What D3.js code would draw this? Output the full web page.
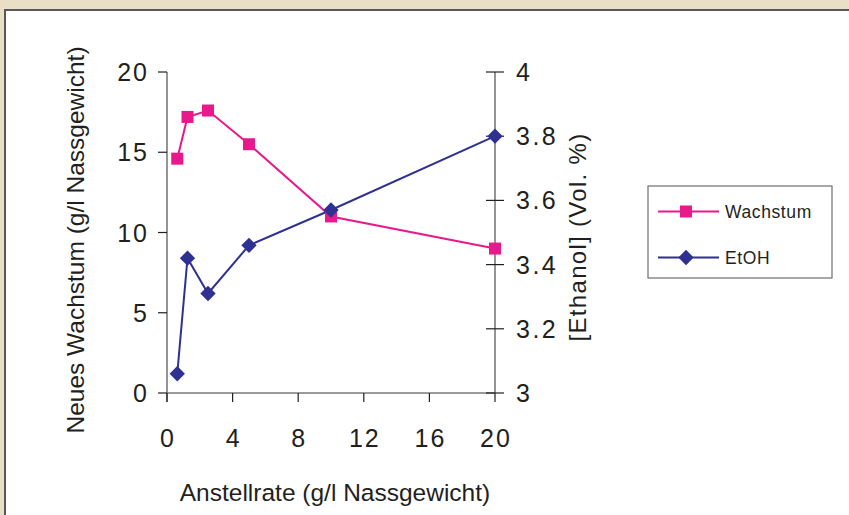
<!DOCTYPE html>
<html>
<head>
<meta charset="utf-8">
<script src="https://cdn.jsdelivr.net/npm/d3@7/dist/d3.min.js"></script>
<style>
  html, body { margin: 0; padding: 0; background: #e9dfc6; }
  svg { display: block; }
  text { font-family: "Liberation Sans", Arial, Helvetica, sans-serif; fill: #231f20; }
</style>
</head>
<body>
<svg id="chart" width="849" height="515"></svg>
<script>
// Anstellrate (g/l Nassgewicht)
const pitchRates = [0.625, 1.25, 2.5, 5, 10, 20];
// Neues Wachstum (g/l Nassgewicht)
const growth = [14.6, 17.2, 17.6, 15.5, 11.0, 9.0];
// [Ethanol] (Vol. %)
const ethanol = [3.06, 3.42, 3.31, 3.46, 3.57, 3.80];

const xTicks = [0, 4, 8, 12, 16, 20];
const yLeftTicks = [0, 5, 10, 15, 20];
const yRightTicks = [3, 3.2, 3.4, 3.6, 3.8, 4];

const seriesNames = ["Wachstum", "EtOH"];
const pink = "#e8198b";
const navy = "#2e3192";
const axisColor = "#7a7a7a";

const svg = d3.select("#chart");

// white panel with dark frame on top / left
svg.append("rect").attr("x", 5).attr("y", 10).attr("width", 860).attr("height", 520)
  .attr("fill", "#ffffff").attr("stroke", "#58595b").attr("stroke-width", 2);

const x = d3.scaleLinear().domain([0, 20]).range([167, 495]);
const yL = d3.scaleLinear().domain([0, 20]).range([393, 72]);
const yR = d3.scaleLinear().domain([3, 4]).range([393, 72]);

const tickFont = 25;

// left axis
const gL = svg.append("g");
gL.append("line").attr("x1", x(0)).attr("x2", x(0)).attr("y1", yL(20)).attr("y2", yL(0) + 9)
  .attr("stroke", axisColor).attr("stroke-width", 1.6);
gL.selectAll("line.t").data(yLeftTicks).join("line").attr("class", "t")
  .attr("x1", x(0) - 9).attr("x2", x(0)).attr("y1", d => yL(d)).attr("y2", d => yL(d))
  .attr("stroke", "#231f20").attr("stroke-width", 1.2);
gL.selectAll("text").data(yLeftTicks).join("text")
  .attr("x", x(0) - 18).attr("y", d => yL(d) + 9)
  .attr("text-anchor", "end").attr("font-size", tickFont).style("letter-spacing", "2px")
  .text(d => d);

// bottom axis
const gB = svg.append("g");
gB.append("line").attr("x1", x(0)).attr("x2", x(20)).attr("y1", yL(0)).attr("y2", yL(0))
  .attr("stroke", axisColor).attr("stroke-width", 1.6);
gB.selectAll("line.t").data(xTicks).join("line").attr("class", "t")
  .attr("x1", d => x(d)).attr("x2", d => x(d)).attr("y1", yL(0)).attr("y2", yL(0) + 9)
  .attr("stroke", "#231f20").attr("stroke-width", 1.2);
gB.selectAll("text").data(xTicks).join("text")
  .attr("x", d => x(d) + 1).attr("y", yL(0) + 54)
  .attr("text-anchor", "middle").attr("font-size", tickFont).style("letter-spacing", "2px")
  .text(d => d);

// right axis
const gR = svg.append("g");
gR.append("line").attr("x1", x(20)).attr("x2", x(20)).attr("y1", yR(4)).attr("y2", yR(3) + 9)
  .attr("stroke", axisColor).attr("stroke-width", 1.6);
gR.selectAll("line.t").data(yRightTicks).join("line").attr("class", "t")
  .attr("x1", x(20) - 9).attr("x2", x(20) + 9).attr("y1", d => yR(d)).attr("y2", d => yR(d))
  .attr("stroke", "#231f20").attr("stroke-width", 1.2);
gR.selectAll("text").data(yRightTicks).join("text")
  .attr("x", x(20) + 21).attr("y", d => yR(d) + 9)
  .attr("text-anchor", "start").attr("font-size", tickFont).style("letter-spacing", "2.5px")
  .text(d => d3.format("")(d));

// axis titles
svg.append("text").attr("transform", "translate(84,240) rotate(-90)")
  .attr("text-anchor", "middle").attr("font-size", 24.5)
  .text("Neues Wachstum (g/l Nassgewicht)");
svg.append("text").attr("transform", "translate(586,237) rotate(-90)")
  .attr("text-anchor", "middle").attr("font-size", 24).style("letter-spacing", "1.3px")
  .text("[Ethanol] (Vol. %)");
svg.append("text").attr("x", 335).attr("y", 501)
  .attr("text-anchor", "middle").attr("font-size", 24.5)
  .text("Anstellrate (g/l Nassgewicht)");

// series
const lineL = d3.line().x((d, i) => x(pitchRates[i])).y(d => yL(d));
const lineR = d3.line().x((d, i) => x(pitchRates[i])).y(d => yR(d));

svg.append("path").attr("d", lineL(growth)).attr("fill", "none")
  .attr("stroke", pink).attr("stroke-width", 2);
svg.append("path").attr("d", lineR(ethanol)).attr("fill", "none")
  .attr("stroke", navy).attr("stroke-width", 2);

const sq = d3.symbol().type(d3.symbolSquare).size(144);
const dm = d3.symbol().type(d3.symbolDiamond2).size(150);

svg.selectAll("path.g").data(growth).join("path").attr("class", "g")
  .attr("d", sq).attr("transform", (d, i) => `translate(${x(pitchRates[i])},${yL(d)})`)
  .attr("fill", pink);
svg.selectAll("path.e").data(ethanol).join("path").attr("class", "e")
  .attr("d", dm).attr("transform", (d, i) => `translate(${x(pitchRates[i])},${yR(d)})`)
  .attr("fill", navy);

// legend
const lg = svg.append("g");
lg.append("rect").attr("x", 648).attr("y", 186).attr("width", 184).attr("height", 92)
  .attr("fill", "#ffffff").attr("stroke", "#6d6e71").attr("stroke-width", 1.2);
const legendItems = [
  { name: seriesNames[0], color: pink, sym: sq, y: 211.5 },
  { name: seriesNames[1], color: navy, sym: dm, y: 257.5 }
];
legendItems.forEach(it => {
  lg.append("line").attr("x1", 658).attr("x2", 719).attr("y1", it.y).attr("y2", it.y)
    .attr("stroke", it.color).attr("stroke-width", 2);
  lg.append("path").attr("d", it.sym).attr("transform", `translate(686,${it.y})`)
    .attr("fill", it.color);
  lg.append("text").attr("x", 725).attr("y", it.y + 6.5).attr("font-size", 17.5)
    .style("letter-spacing", "0.6px").text(it.name);
});
</script>
</body>
</html>
